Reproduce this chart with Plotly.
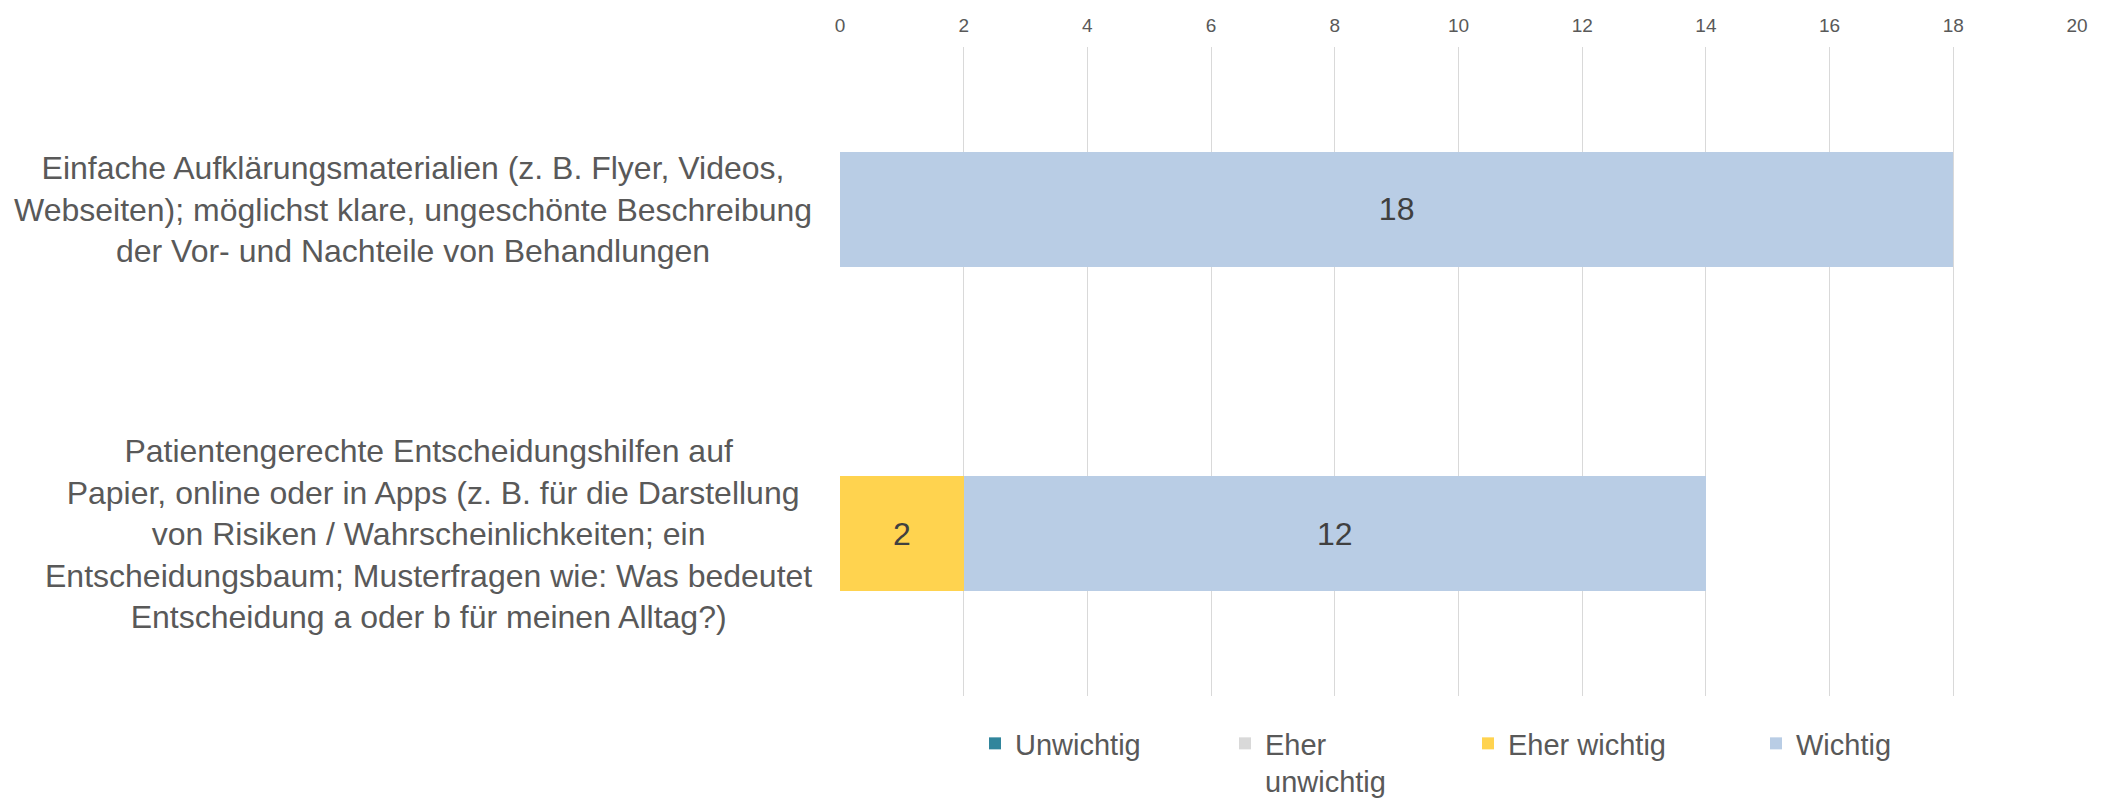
import plotly.graph_objects as go

categories = [
    "Einfache Aufklärungsmaterialien (z. B. Flyer, Videos,<br>Webseiten); möglichst klare, ungeschönte Beschreibung<br>der Vor- und Nachteile von Behandlungen",
    "Patientengerechte Entscheidungshilfen auf<br> Papier, online oder in Apps (z. B. für die Darstellung<br>von Risiken / Wahrscheinlichkeiten; ein<br>Entscheidungsbaum; Musterfragen wie: Was bedeutet<br>Entscheidung a oder b für meinen Alltag?)",
]
cat_keys = ["c1", "c2"]
series_names = ["Unwichtig", "Eher<br>unwichtig", "Eher wichtig", "Wichtig"]
unwichtig = [0, 0]
eher_unwichtig = [0, 0]
eher_wichtig = [0, 2]
wichtig = [18, 12]
series_values = [unwichtig, eher_unwichtig, eher_wichtig, wichtig]
colors = ["#31859C", "#D9D9D9", "#FFD34F", "#B9CDE5"]
x_ticks = list(range(0, 21, 2))

# page body has an 8px default margin; figure is sized/offset to compensate
W, H = 2102, 794
L, R, T, B = 832, 33, 39, 106
pw, ph = W - L - R, H - T - B

def px_to_paper_x(px):
    return (px - L) / pw

def px_to_paper_y(py):
    return (H - B - py) / ph

fig = go.Figure()
legend_text_x = [1016, 1266, 1509, 1797]
legend_names = ["legend", "legend2", "legend3", "legend4"]
for i, (name, vals, col) in enumerate(zip(series_names, series_values, colors)):
    fig.add_trace(go.Bar(
        y=cat_keys, x=vals, orientation="h", name=name,
        marker=dict(color=col, line=dict(width=0)),
        text=[str(v) if v else "" for v in vals],
        textposition="inside", insidetextanchor="middle",
        textfont=dict(family="Liberation Sans, Arial", size=32, color="#404040"),
        textangle=0,
        legend=legend_names[i],
        hoverinfo="skip",
    ))

layout_legends = {}
for i, ln in enumerate(legend_names):
    layout_legends[ln] = dict(
        x=px_to_paper_x(legend_text_x[i] - 49), xanchor="left",
        y=px_to_paper_y(710), yanchor="top",
        valign="top",
        font=dict(family="Liberation Sans, Arial", size=29, color="#595959"),
        bgcolor="rgba(0,0,0,0)", borderwidth=0,
        itemwidth=30, tracegroupgap=0,
    )

annotations = []
for key, label in zip(cat_keys, categories):
    annotations.append(dict(
        x=px_to_paper_x(806), xref="paper", xanchor="right",
        y=key, yref="y", yanchor="middle",
        text=label, showarrow=False, align="center",
        font=dict(family="Liberation Sans, Arial", size=32, color="#595959"),
    ))

fig.update_layout(
    width=W, height=H,
    margin=dict(l=L, r=R, t=T, b=B, pad=0, autoexpand=False),
    barmode="stack", bargap=0.647,
    plot_bgcolor="white", paper_bgcolor="white",
    showlegend=True,
    annotations=annotations,
    xaxis=dict(
        side="top", range=[0, 20], tickvals=x_ticks, ticktext=[str(t) for t in x_ticks],
        showgrid=True, gridcolor="#D9D9D9", gridwidth=1.3,
        zeroline=False, showline=False, ticks="",
        tickfont=dict(family="Liberation Sans, Arial", size=19, color="#595959"),
        ticklabelstandoff=10,
        automargin=False,
        fixedrange=True,
    ),
    yaxis=dict(
        categoryorder="array", categoryarray=cat_keys, autorange="reversed",
        showticklabels=False, showgrid=False, zeroline=False, showline=False, ticks="",
        automargin=False,
        fixedrange=True,
    ),
    **layout_legends,
)

fig.write_html("out.html")
